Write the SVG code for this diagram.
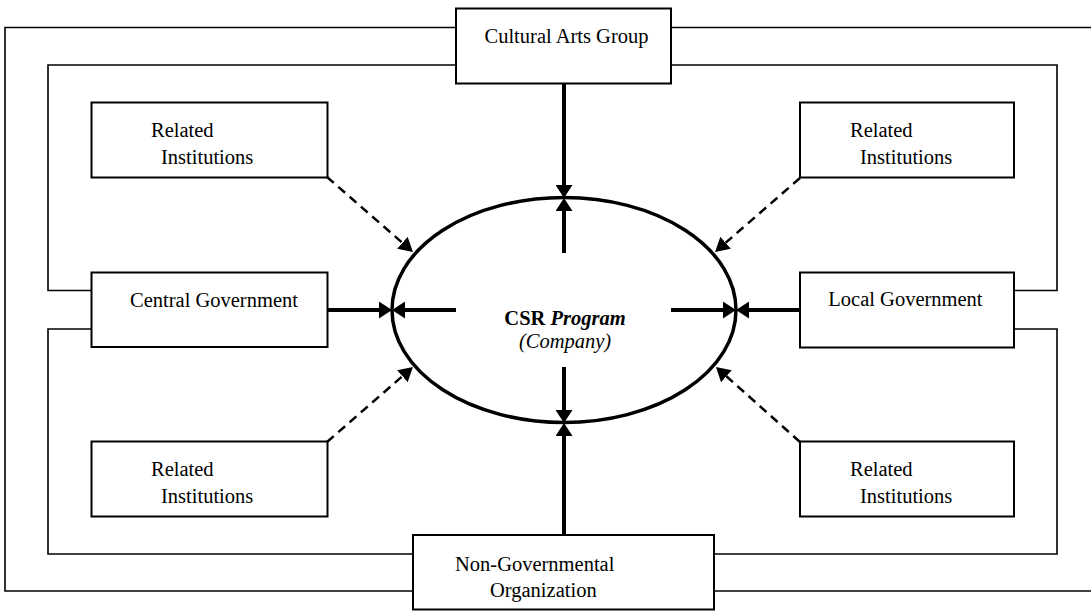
<svg xmlns="http://www.w3.org/2000/svg" width="1091" height="611" viewBox="0 0 1091 611">
<style>
  .box{fill:#fff;stroke:#000;stroke-width:2}
  .frame{fill:none;stroke:#000;stroke-width:1.6}
  .t{font-family:"Liberation Serif","Times New Roman",serif;font-size:20.5px;fill:#000}
  .solid{stroke:#000;stroke-width:4;fill:none;marker-end:url(#ah)}
  .dash{stroke:#000;stroke-width:2.5;fill:none;stroke-dasharray:9 6;marker-end:url(#ahd)}
</style>
<defs>
  <marker id="ah" viewBox="0 0 13 17" refX="0" refY="8.5" markerWidth="13" markerHeight="17" markerUnits="userSpaceOnUse" orient="auto">
    <path d="M0,0 L13,8.5 L0,17 z" fill="#000"/>
  </marker>
  <marker id="ahd" viewBox="0 0 14 16" refX="0" refY="8" markerWidth="14" markerHeight="16" markerUnits="userSpaceOnUse" orient="auto">
    <path d="M0,0 L14,8 L0,16 z" fill="#000"/>
  </marker>
</defs>
<rect width="1091" height="611" fill="#fff"/>
<g id="connectors">
  <path class="frame" d="M456,27.5 H5 V591 H413"/>
  <path class="frame" d="M671,27.5 H1095"/>
  <path class="frame" d="M714,591 H1095"/>
  <path class="frame" d="M456,65 H48 V290.5 H92"/>
  <path class="frame" d="M671,65 H1057 V290.5 H1014"/>
  <path class="frame" d="M92,329 H48 V554 H413"/>
  <path class="frame" d="M1014,329 H1057 V554 H714"/>
  <path class="solid" d="M564,83 V185"/>
  <path class="solid" d="M564,253 V211"/>
  <path class="solid" d="M328,310 H379"/>
  <path class="solid" d="M456,310 H405"/>
  <path class="solid" d="M671,310 H723"/>
  <path class="solid" d="M800,310 H749"/>
  <path class="solid" d="M564,367 V410"/>
  <path class="solid" d="M564,535 V436"/>
  <path class="dash" d="M327,177 L402.4,242.8"/>
  <path class="dash" d="M800,178 L725.6,242.8"/>
  <path class="dash" d="M327,442 L402.4,376.2"/>
  <path class="dash" d="M800,442 L726.4,376.3"/>
</g>
<g id="csr">
  <ellipse cx="564" cy="310" rx="172" ry="112.5" fill="none" stroke="#000" stroke-width="3.5"/>
  <text class="t" x="565" y="325" text-anchor="middle"><tspan font-weight="bold">CSR </tspan><tspan font-weight="bold" font-style="italic">Program</tspan></text>
  <text class="t" x="565" y="348" text-anchor="middle" font-style="italic">(Company)</text>
</g>
<g id="cultural">
  <rect class="box" x="456" y="8.5" width="215" height="75"/>
  <text class="t" x="484.5" y="43.3">Cultural Arts Group</text>
</g>
<g id="related-tl">
  <rect class="box" x="91.5" y="102.5" width="236" height="75"/>
  <text class="t" x="151" y="137">Related</text>
  <text class="t" x="161" y="163.5">Institutions</text>
</g>
<g id="central">
  <rect class="box" x="91.5" y="272.5" width="236" height="74.5"/>
  <text class="t" x="130" y="306.7">Central Government</text>
</g>
<g id="related-bl">
  <rect class="box" x="91.5" y="441.5" width="236" height="75"/>
  <text class="t" x="151" y="476">Related</text>
  <text class="t" x="161" y="502.7">Institutions</text>
</g>
<g id="related-tr">
  <rect class="box" x="800" y="102.5" width="214" height="75"/>
  <text class="t" x="850" y="137">Related</text>
  <text class="t" x="860" y="163.5">Institutions</text>
</g>
<g id="local">
  <rect class="box" x="800" y="272.5" width="214" height="75"/>
  <text class="t" x="828.3" y="306.3">Local Government</text>
</g>
<g id="related-br">
  <rect class="box" x="800" y="441.5" width="214" height="75"/>
  <text class="t" x="850" y="476">Related</text>
  <text class="t" x="860" y="502.5">Institutions</text>
</g>
<g id="ngo">
  <rect class="box" x="413" y="535" width="301" height="74.5"/>
  <text class="t" x="455" y="570.7">Non-Governmental</text>
  <text class="t" x="490" y="596.7">Organization</text>
</g>
</svg>
